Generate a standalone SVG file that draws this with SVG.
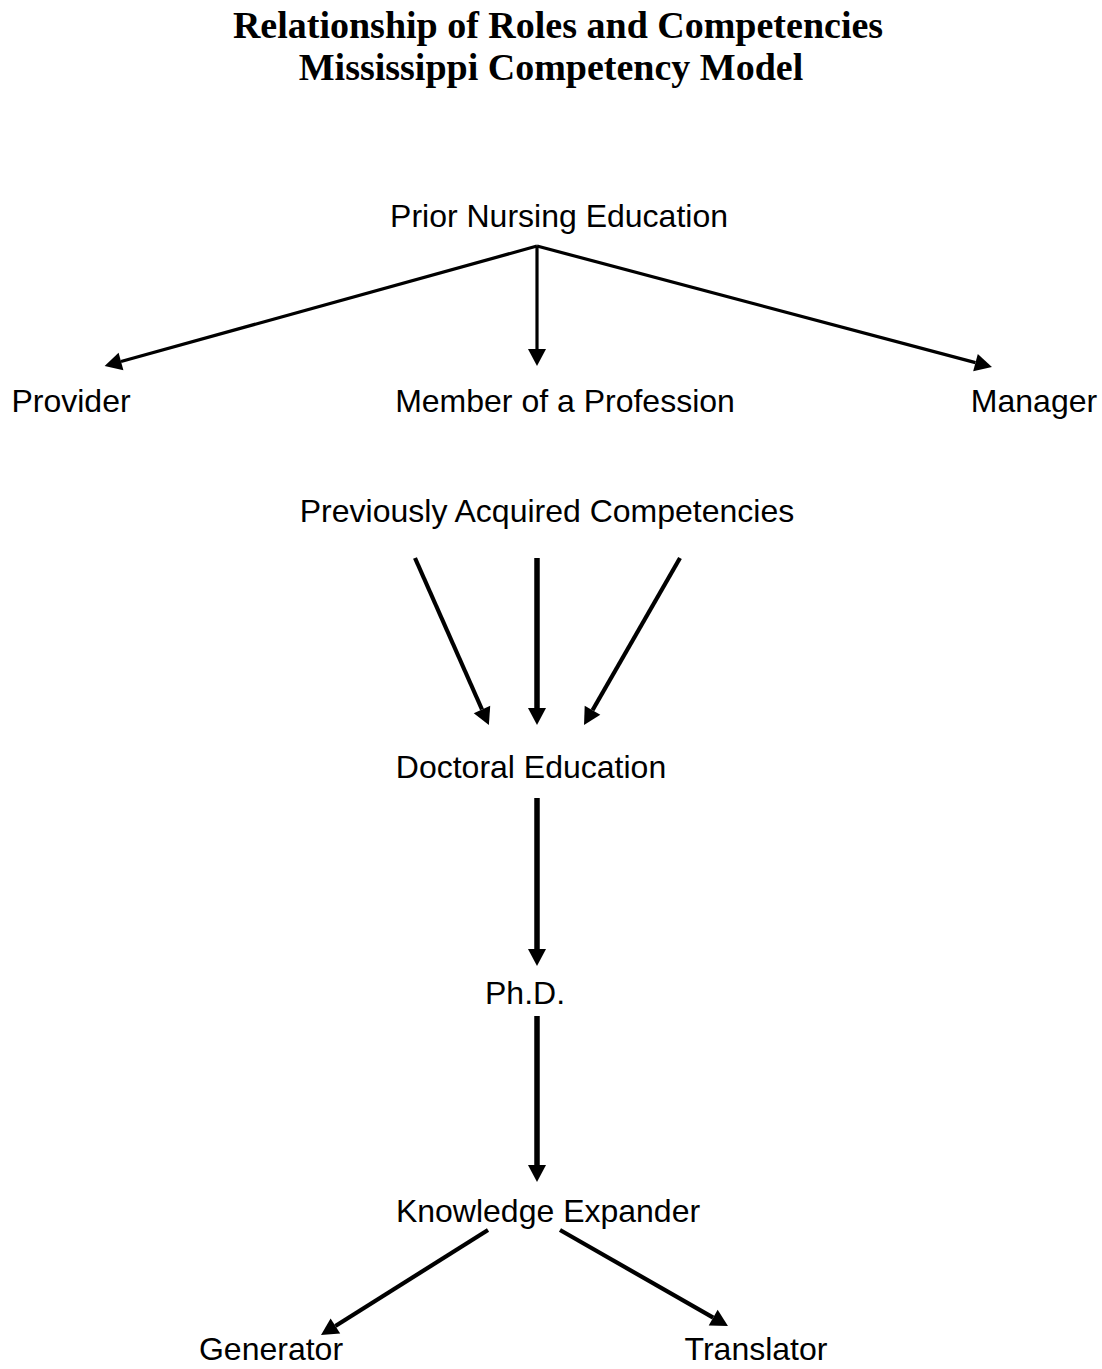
<svg xmlns="http://www.w3.org/2000/svg" width="1102" height="1369" viewBox="0 0 1102 1369">
<style>
.title{font-family:"Liberation Serif","Times New Roman",serif;font-weight:bold;font-size:38px;fill:#000;text-anchor:middle}
.lbl{font-family:"Liberation Sans",Arial,sans-serif;font-size:32px;fill:#000;text-anchor:middle}
.c{fill:none;stroke:#000;stroke-linecap:butt}
.t3{stroke-width:3.2}
.t4{stroke-width:4.2}
.t5{stroke-width:5.5}
</style>
<defs>
<marker id="ah" markerUnits="userSpaceOnUse" markerWidth="18" markerHeight="18" refX="0" refY="9" orient="auto" overflow="visible">
<path d="M0,0 L17,9 L0,18 z" fill="#000"/>
</marker>
</defs>
<rect width="1102" height="1369" fill="#fff"/>
<g id="title">
<text class="title" x="558" y="38">Relationship of Roles and Competencies</text>
<text class="title" x="551" y="80">Mississippi Competency Model</text>
</g>
<g id="n-prior"><text class="lbl" x="559" y="227">Prior Nursing Education</text></g>
<g id="n-provider"><text class="lbl" x="71" y="412">Provider</text></g>
<g id="n-member"><text class="lbl" x="565" y="412">Member of a Profession</text></g>
<g id="n-manager"><text class="lbl" x="1034" y="412">Manager</text></g>
<g id="n-previous"><text class="lbl" x="547" y="522">Previously Acquired Competencies</text></g>
<g id="n-doctoral"><text class="lbl" x="531" y="778">Doctoral Education</text></g>
<g id="n-phd"><text class="lbl" x="525" y="1004">Ph.D.</text></g>
<g id="n-ke"><text class="lbl" x="548" y="1222">Knowledge Expander</text></g>
<g id="n-generator"><text class="lbl" x="271" y="1360">Generator</text></g>
<g id="n-translator"><text class="lbl" x="756" y="1360">Translator</text></g>
<g id="connectors">
<path class="c t3" d="M537,246 L121,361.5" marker-end="url(#ah)"/>
<path class="c t3" d="M537,246 L537,349" marker-end="url(#ah)"/>
<path class="c t3" d="M537,246 L975.5,362.6" marker-end="url(#ah)"/>
<path class="c t4" d="M415,558 L482,709.5" marker-end="url(#ah)"/>
<path class="c t5" d="M537,558 L537,708" marker-end="url(#ah)"/>
<path class="c t4" d="M680,558 L592.5,710.3" marker-end="url(#ah)"/>
<path class="c t5" d="M537,798 L537,949" marker-end="url(#ah)"/>
<path class="c t5" d="M537,1016 L537,1165" marker-end="url(#ah)"/>
<path class="c t4" d="M488,1230 L335.4,1326" marker-end="url(#ah)"/>
<path class="c t4" d="M560,1230 L713.2,1317.6" marker-end="url(#ah)"/>
</g>
</svg>
